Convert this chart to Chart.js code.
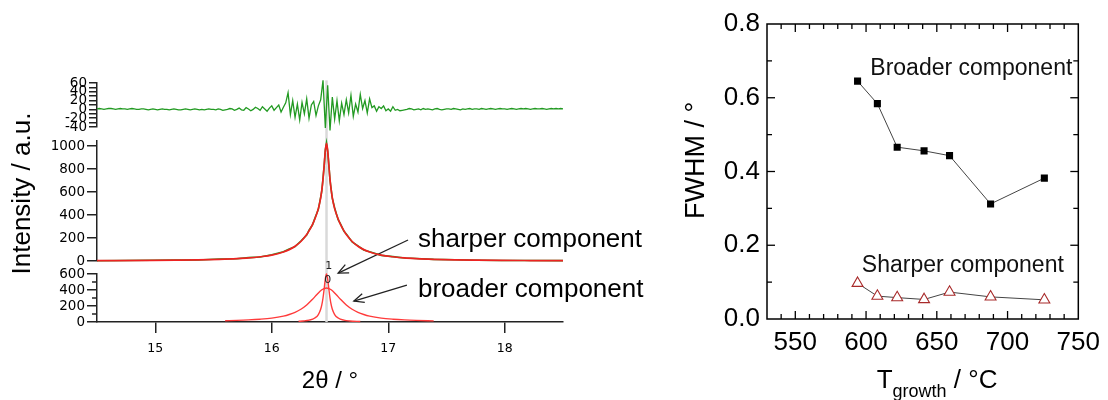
<!DOCTYPE html>
<html><head><meta charset="utf-8">
<script src="https://cdn.jsdelivr.net/npm/chart.js@4.4.1/dist/chart.umd.min.js"></script>
<style>
html,body{margin:0;padding:0;background:#fff;}
#wrap{position:relative;width:1108px;height:400px;overflow:hidden;background:#fff;}
canvas{position:absolute;top:0;}
#cBot,#cMid,#cRes{left:0;}
#cRight{left:680px;}
</style></head><body>
<div id="wrap">
<canvas id="cBot" width="680" height="400"></canvas>
<canvas id="cMid" width="680" height="400"></canvas>
<canvas id="cRes" width="680" height="400"></canvas>
<canvas id="cRight" width="428" height="400"></canvas>
</div>
<script>
// ---------------- data: left panel (XRD peak fit) ----------------
const twoThetaRange = [14.5, 18.5];
const twoThetaTicks = [15, 16, 17, 18];
const peakPos = 16.47;

const residStart = 14.5;
const residStep = 0.02;
const residual = [
  1,2,1,0,1,2,2,1,0,1, 2,1,1,0,1,2,1,0,0,1, 1,0,-1,0,1,0,-1,0,1,0, 0,-1,0,1,0,-1,-1,0,1,0, -1,0,1,0,-1,0,-1,0,1,0,
  0,-1,1,0,-2,-1,0,2,1,-2, 0,3,-1,-2,4,1,-3,0,5,2, -2,6,1,-4,3,
  8,-2,4,10,-6,5,15,38,-12,20, -18,12,-24,16,-10,24,-20,10,18,-14,
  8,22,66,-42,55,-48,28,-22,20,-26, 14,-12,22,-8,32,-16,12,-6,34,2, 20,-8,24,4,8,-4,6,2,8,-3, 1,-4,6,-2,0,-3,
  -2,-1,0,2,1,-1,0,1,-1,2, 0,1,0,-1,1,2,0,-1,0,1, 1,0,2,1,0,-1,1,0,1,2, 0,1,1,0,2,1,0,1,2,1,
  0,1,2,1,1,0,1,2,1,0, 1,2,1,2,1,0,1,2,1,1, 2,1,0,1,2,1,2,1,2,1
];
const residTicks = [-40,-30,-20,-10,0,10,20,30,40,50,60];

const fitX = [14.50,14.97,15.17,15.37,15.55,15.70,15.80,15.90,16.00,16.10,16.15,16.20,16.25,16.30,16.32,16.35,16.37,16.40,16.42,16.43,16.44,16.45,16.46,16.47,
              16.48,16.49,16.50,16.51,16.52,16.54,16.57,16.59,16.62,16.64,16.69,16.74,16.79,16.84,16.94,17.04,17.14,17.24,17.39,17.57,17.77,17.97,18.22,18.50];
const fitTotal = [3,5,7,10,15,21,27,37,51,78,99,128,170,230,262,319,366,456,550,619,712,834,963,1025,
                  963,834,712,619,550,456,366,319,262,230,170,128,99,78,51,37,27,21,15,10,7,5,4,3];
const observed = [2,6,8,9,17,20,29,35,55,80,104,125,174,226,268,315,372,450,556,612,720,828,968,1030,
                  958,840,705,625,545,462,360,324,258,236,166,132,96,80,49,38,26,22,14,11,6,5,4,3];
const midTicks = [0,200,400,600,800,1000];

const broadX = [15.60,15.70,15.80,15.90,16.00,16.10,16.15,16.20,16.25,16.30,16.35,16.39,16.43,16.47,16.51,16.55,16.59,16.64,16.69,16.74,16.79,16.84,16.94,17.04,17.14,17.24,17.39];
const broadY = [16,20,26,35,49,74,94,121,159,212,284,348,403,425,403,348,284,212,159,121,94,74,49,35,26,20,14];
const sharpX = [16.23,16.27,16.32,16.37,16.40,16.42,16.43,16.44,16.45,16.46,16.47,16.48,16.49,16.50,16.51,16.52,16.54,16.57,16.62,16.67,16.76];
const sharpY = [9,13,23,50,93,159,216,300,415,540,600,540,415,300,216,159,93,50,23,13,6];
const botTicks = [0,200,400,600];
const botMinorTicks = [100,300,500];

// ---------------- data: right panel (FWHM vs T) ----------------
const tGrowth = [594, 608, 622, 641, 659, 688, 726];
const fwhmBroad = [0.645, 0.584, 0.466, 0.456, 0.443, 0.312, 0.382];
const fwhmSharp = [0.097, 0.062, 0.058, 0.053, 0.073, 0.060, 0.052];
const tTicks = [550, 600, 650, 700, 750];
const fwhmTicks = [0.0, 0.2, 0.4, 0.6, 0.8];

// ---------------- common ----------------
const SANS = '"Liberation Sans", Arial, Helvetica, sans-serif';
const TICKF = '"DejaVu Sans", Verdana, sans-serif';
const AX = '#222';
const GREEN = '#229a22';
const RED = '#ee2222';
const PINK = '#ff3b3b';

function pts(xs, ys){ return xs.map((x,i)=>({x:x, y:ys[i]})); }
function setTicks(arr){ return function(scale){ scale.ticks = arr.map(v=>({value:v})); }; }
function leftY(min, max, ticks, tickLen, labelEvery){
  return {
    type:'linear', min:min, max:max,
    afterBuildTicks:setTicks(ticks),
    afterFit(s){ s.width = 97; },
    grid:{display:true, drawOnChartArea:false, drawTicks:true, tickLength:tickLen, color:AX, lineWidth:1.5},
    border:{display:true, color:AX, width:1.5},
    ticks:{autoSkip:false, padding:2, color:'#000', font:{family:TICKF, size:13.5},
      callback:(v)=> (labelEvery && (v % labelEvery !== 0)) ? '' : String(v)}
  };
}
function hiddenX(){
  return {type:'linear', min:twoThetaRange[0], max:twoThetaRange[1], display:false};
}
const baseOpts = {responsive:false, animation:false, events:[],
  plugins:{legend:{display:false}, tooltip:{enabled:false}}};

// ---------- residual chart ----------
const resChart = new Chart(document.getElementById('cRes'), {
  type:'line',
  data:{datasets:[{
    data: residual.map((v,i)=>({x: residStart + i*residStep, y:v})),
    borderColor:GREEN, borderWidth:1.3, pointRadius:0, tension:0, clip:false
  }]},
  options:Object.assign({}, baseOpts, {
    layout:{padding:{left:0, right:117, top:83, bottom:273}},
    scales:{ x:hiddenX(), y:leftY(-40, 60, residTicks, 8, 20) }
  })
});

// ---------- middle chart (data + fit) ----------
const midChart = new Chart(document.getElementById('cMid'), {
  type:'line',
  data:{datasets:[
    {data:pts(fitX, fitTotal), borderColor:RED, borderWidth:1.7, pointRadius:0, cubicInterpolationMode:'monotone', clip:false},
    {data:pts(fitX, observed), borderColor:GREEN, borderWidth:1.6, pointRadius:0, tension:0, clip:false}
  ]},
  options:Object.assign({}, baseOpts, {
    layout:{padding:{left:0, right:117, top:141, bottom:139}},
    scales:{ x:hiddenX(), y:leftY(0, 1045, midTicks, 10, 0) }
  })
});

// ---------- bottom chart (components) ----------
const botPlugin = {
  id:'botDecor',
  beforeDatasetsDraw(chart){
    const {ctx, chartArea:a, scales:{x}} = chart;
    const px = x.getPixelForValue(peakPos);
    const top = resChart.scales.y.getPixelForValue(66);
    ctx.save();
    ctx.strokeStyle = '#d9d9d9'; ctx.lineWidth = 2.5;
    ctx.beginPath(); ctx.moveTo(px, top); ctx.lineTo(px, a.bottom); ctx.stroke();
    ctx.restore();
  },
  afterDraw(chart){
    const {ctx, chartArea:a, scales:{x, y}} = chart;
    ctx.save();
    // minor ticks
    ctx.strokeStyle = AX; ctx.lineWidth = 1.5;
    botMinorTicks.forEach(v=>{
      const py = y.getPixelForValue(v);
      ctx.beginPath(); ctx.moveTo(a.left-5, py); ctx.lineTo(a.left, py); ctx.stroke();
    });
    // peak tags
    ctx.fillStyle = '#222'; ctx.font = '11px ' + TICKF; ctx.textAlign='center'; ctx.textBaseline='middle';
    ctx.fillText('1', x.getPixelForValue(16.49), y.getPixelForValue(700));
    ctx.fillText('0', x.getPixelForValue(16.48), y.getPixelForValue(525));
    // labels
    ctx.fillStyle = '#000'; ctx.font = '26px ' + SANS; ctx.textAlign='left';
    ctx.fillText('sharper component', x.getPixelForValue(17.255), y.getPixelForValue(1025));
    ctx.fillText('broader component', x.getPixelForValue(17.255), y.getPixelForValue(400));
    // arrows
    function arrow(x0,y0,x1,y1){
      const X0=x.getPixelForValue(x0), Y0=y.getPixelForValue(y0), X1=x.getPixelForValue(x1), Y1=y.getPixelForValue(y1);
      const ang = Math.atan2(Y1-Y0, X1-X0), L=11, sp=0.42;
      ctx.strokeStyle='#222'; ctx.lineWidth=1.3;
      ctx.beginPath(); ctx.moveTo(X0,Y0); ctx.lineTo(X1,Y1); ctx.stroke();
      ctx.beginPath();
      ctx.moveTo(X1 - L*Math.cos(ang-sp), Y1 - L*Math.sin(ang-sp));
      ctx.lineTo(X1, Y1);
      ctx.lineTo(X1 - L*Math.cos(ang+sp), Y1 - L*Math.sin(ang+sp));
      ctx.stroke();
    }
    arrow(17.17, 1025, 16.57, 612);
    arrow(17.16, 462, 16.705, 262);
    // y title
    ctx.fillStyle='#000'; ctx.font = '26px ' + SANS; ctx.textAlign='center'; ctx.textBaseline='middle';
    ctx.translate(a.left - 74, y.getPixelForValue(1606));
    ctx.rotate(-Math.PI/2);
    ctx.fillText('Intensity / a.u.', 0, 0);
    ctx.restore();
  }
};
const botChart = new Chart(document.getElementById('cBot'), {
  type:'line',
  data:{datasets:[
    {data:pts(broadX, broadY), borderColor:PINK, borderWidth:1.4, pointRadius:0, cubicInterpolationMode:'monotone', clip:false},
    {data:pts(sharpX, sharpY), borderColor:PINK, borderWidth:1.4, pointRadius:0, cubicInterpolationMode:'monotone', clip:false}
  ]},
  options:Object.assign({}, baseOpts, {
    layout:{padding:{left:0, right:117, top:274, bottom:0}},
    scales:{
      x:{type:'linear', min:twoThetaRange[0], max:twoThetaRange[1],
        afterBuildTicks:setTicks(twoThetaTicks),
        afterFit(s){ s.height = 78; },
        grid:{display:true, drawOnChartArea:false, drawTicks:true, tickLength:11, color:AX, lineWidth:1.5},
        border:{display:true, color:AX, width:1.5},
        ticks:{autoSkip:false, maxRotation:0, padding:8, color:'#000', font:{family:TICKF, size:12.5}},
        title:{display:true, text:'2θ / °', color:'#000', font:{family:SANS, size:24}, padding:{top:0, bottom:4}}
      },
      y:leftY(0, 600, botTicks, 10, 0)
    }
  }),
  plugins:[botPlugin]
});

// ---------- right chart ----------
const rightPlugin = {
  id:'rightDecor',
  afterDraw(chart){
    const {ctx, chartArea:a, scales:{x, y}} = chart;
    ctx.save();
    ctx.strokeStyle='#000'; ctx.lineWidth=1.5;
    ctx.strokeRect(a.left, a.top, a.right-a.left, a.bottom-a.top);
    ctx.lineWidth=1.3;
    function seg(x0,y0,x1,y1){ ctx.beginPath(); ctx.moveTo(x0,y0); ctx.lineTo(x1,y1); ctx.stroke(); }
    for(let k=54; k<=74; k++){
      const v = k*10, px = x.getPixelForValue(v), len = (v%50===0)?8:5;
      seg(px, a.bottom, px, a.bottom-len); seg(px, a.top, px, a.top+len);
    }
    for(let k=1; k<8; k++){
      const v = k/10, py = y.getPixelForValue(v), len = (k%2===0)?8:5;
      seg(a.left, py, a.left+len, py); seg(a.right, py, a.right-len, py);
    }
    ctx.fillStyle='#111'; ctx.font='23px '+SANS; ctx.textAlign='left'; ctx.textBaseline='middle';
    ctx.fillText('Broader component', x.getPixelForValue(603), y.getPixelForValue(0.68));
    ctx.fillText('Sharper component', x.getPixelForValue(597), y.getPixelForValue(0.146));
    // x title with subscript
    ctx.fillStyle='#000'; ctx.textBaseline='alphabetic';
    let tx = x.getPixelForValue(607.5);
    const base = a.bottom + 69;
    ctx.font='26px '+SANS; ctx.fillText('T', tx, base); tx += ctx.measureText('T').width;
    ctx.font='18px '+SANS; ctx.fillText('growth', tx, base+9); tx += ctx.measureText('growth').width;
    ctx.font='26px '+SANS; ctx.fillText(' / °C', tx, base);
    // y title
    ctx.textAlign='center'; ctx.textBaseline='middle'; ctx.font='27px '+SANS;
    ctx.translate(a.left - 70, y.getPixelForValue(0.43));
    ctx.rotate(-Math.PI/2);
    ctx.fillText('FWHM / °', 0, 0);
    ctx.restore();
  }
};
new Chart(document.getElementById('cRight'), {
  type:'line',
  data:{datasets:[
    {data:pts(tGrowth, fwhmBroad), borderColor:'#444', borderWidth:1, pointStyle:'rect', pointRadius:5,
     pointBackgroundColor:'#000', pointBorderColor:'#000', pointBorderWidth:0, tension:0},
    {data:pts(tGrowth, fwhmSharp), borderColor:'#444', borderWidth:1, pointStyle:'triangle', pointRadius:6.3,
     pointBackgroundColor:'#fff', pointBorderColor:'#a82a2a', pointBorderWidth:1.1, tension:0}
  ]},
  options:Object.assign({}, baseOpts, {
    layout:{padding:{left:0, right:25, top:24, bottom:0}},
    scales:{
      x:{type:'linear', min:530, max:750, afterBuildTicks:setTicks(tTicks),
        afterFit(s){ s.height = 81; },
        grid:{display:false, drawTicks:false}, border:{display:false},
        ticks:{autoSkip:false, maxRotation:0, padding:8, color:'#000', font:{family:SANS, size:26}}},
      y:{type:'linear', min:0, max:0.8, afterBuildTicks:setTicks(fwhmTicks),
        afterFit(s){ s.width = 87; },
        grid:{display:false, drawTicks:false}, border:{display:false},
        ticks:{autoSkip:false, padding:7, color:'#000', font:{family:SANS, size:26},
          callback:(v)=>Number(v).toFixed(1)}}
    }
  }),
  plugins:[rightPlugin]
});
</script>
</body></html>
